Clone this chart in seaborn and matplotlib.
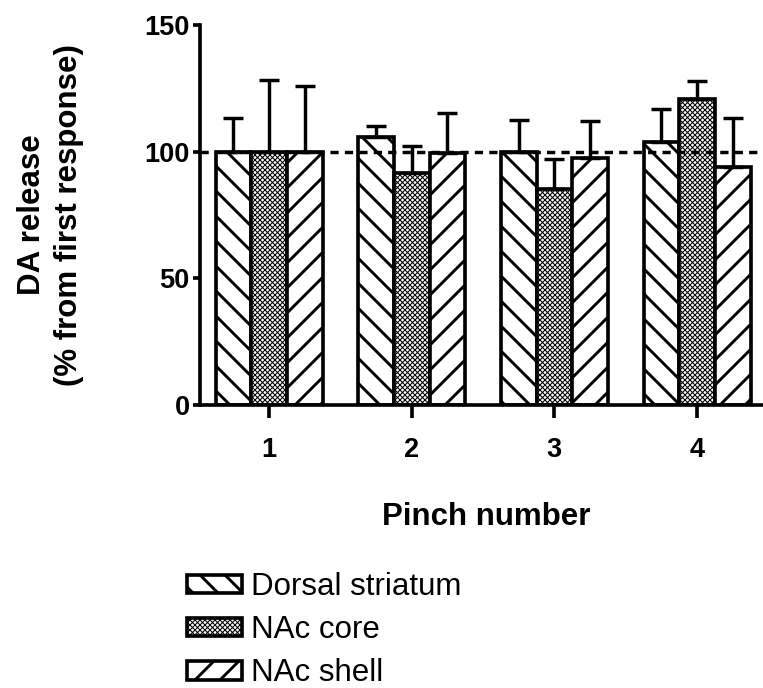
import numpy as np
import pandas as pd
import matplotlib
matplotlib.use('Agg')
import matplotlib.pyplot as plt
from matplotlib.patches import Patch
import seaborn as sns

# datos
pinches = ['1', '2', '3', '4']
regiones = ['Dorsal striatum', 'NAc core', 'NAc shell']
dorsal = [100, 105.9, 100, 103.9]
dorsal_err = [13.3, 4.2, 12.5, 13.0]
core = [100, 91.5, 85.1, 120.8]
core_err = [28.3, 10.9, 12.0, 7.2]
shell = [100, 99.5, 97.4, 93.8]
shell_err = [26.0, 15.9, 14.8, 19.4]
tramas = ['\\', 'xxxxx', '/']

sns.set_style('ticks')
plt.rcParams['font.family'] = ['Liberation Sans', 'DejaVu Sans']
plt.rcParams['hatch.linewidth'] = 2.8
for k in ['text.color', 'axes.labelcolor', 'xtick.color', 'ytick.color', 'axes.edgecolor']:
    plt.rcParams[k] = 'black'


def trama_fina(patch, trama):
    # la trama de cuadritos (NAc core) va con linea mas delgada
    if trama.startswith('x') and hasattr(patch, 'set_hatch_linewidth'):
        patch.set_hatch_linewidth(1.0)


df = pd.DataFrame({
    'pinch': pinches * 3,
    'region': np.repeat(regiones, len(pinches)),
    'valor': dorsal + core + shell,
})
errores = [dorsal_err, core_err, shell_err]
medias = [dorsal, core, shell]

fig = plt.figure(figsize=(763 / 75, 688 / 75), dpi=75)
ax = fig.add_axes([200 / 763, 1 - 405 / 688, 563 / 763, 380 / 688])

sns.barplot(data=df, x='pinch', y='valor', hue='region', hue_order=regiones,
            palette=['white'] * 3, edgecolor='black', linewidth=3.5,
            width=0.75, errorbar=None, legend=False, ax=ax)

for cont, trama, err, med in zip(ax.containers, tramas, errores, medias):
    xs = []
    for bar in cont:
        bar.set_hatch(trama)
        trama_fina(bar, trama)
        xs.append(bar.get_x() + bar.get_width() / 2)
    ax.errorbar(xs, med, yerr=[np.zeros(len(err)), err], fmt='none',
                ecolor='black', elinewidth=3.3, capsize=10, capthick=3.3, zorder=1)

ax.axhline(100, color='black', lw=3.3, ls=(0, (2.4, 1.8)), zorder=5)

ax.set_ylim(0, 150)
ax.set_yticks([0, 50, 100, 150])
ax.set_xlim(-0.484, 3.462)
sns.despine(ax=ax)
ax.spines['left'].set_linewidth(3.5)
ax.spines['bottom'].set_linewidth(3.5)
ax.tick_params(axis='y', length=7, width=3.5, pad=3, labelsize=26)
ax.tick_params(axis='x', length=12, width=3.5, pad=19, labelsize=26)
for lab in ax.get_xticklabels() + ax.get_yticklabels():
    lab.set_fontweight('bold')

ax.set_ylabel('DA release\n(% from first response)', fontsize=30, fontweight='bold',
              linespacing=1.3)
ax.yaxis.set_label_coords((84 - 200) / 563, 0.5)
ax.set_xlabel('Pinch number', fontsize=30, fontweight='bold')
ax.xaxis.set_label_coords(0.508, -0.255)

manijas = [Patch(facecolor='white', edgecolor='black', linewidth=3.5, hatch=t, label=r)
           for r, t in zip(regiones, tramas)]
leg = fig.legend(handles=manijas, loc='upper left', bbox_to_anchor=(187 / 763, 1 - 572 / 688),
                 frameon=False, fontsize=30, handlelength=1.75, handleheight=0.55,
                 handletextpad=0.3, labelspacing=0.42, borderpad=0, borderaxespad=0)
for p, t in zip(leg.get_patches(), tramas):
    trama_fina(p, t)

fig.savefig('out.png', dpi=75)
